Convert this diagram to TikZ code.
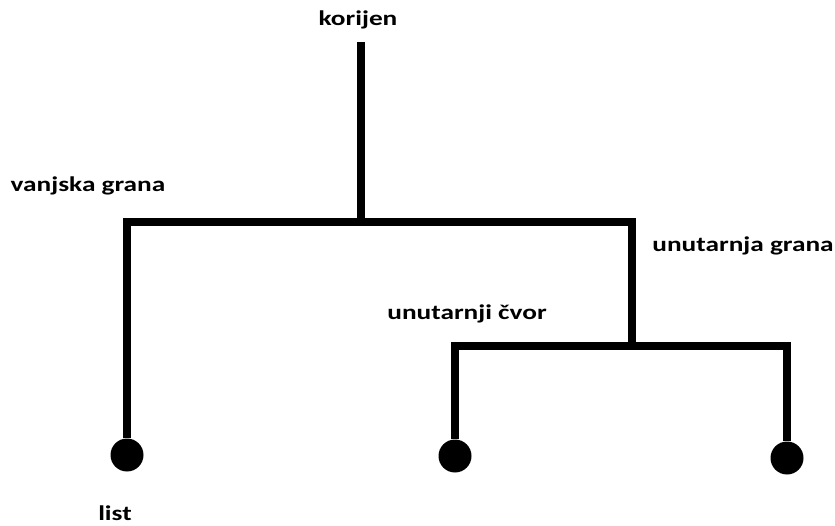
\documentclass[tikz,border=0pt]{standalone}
\usepackage{fontspec}
\setmainfont{Carlito}
\usepackage{tikz}
\usetikzlibrary{positioning}
\tikzstyle{branch} = [line width=8pt, line join=miter, black]
\tikzstyle{leaf} = [circle, fill=black, minimum size=33pt, inner sep=0pt]
\tikzstyle{label} = [font=\fontsize{21}{25}\selectfont\bfseries, inner sep=0pt, xscale=1.3]

\begin{document}
\begin{tikzpicture}[x=1pt, y=-1pt]
				\useasboundingbox (0,0) rectangle (835,526);
				
				% Junctions
				\coordinate (roottop) at (361,42);
				\coordinate (rootjoin) at (361,222);
				\coordinate (innernode) at (632,346);
				
				% Leaves
				\node (leafA) [leaf] at (127,455) {};
				\node (leafB) [leaf] at (455,456) {};
				\node (leafC) [leaf] at (787,458) {};
				
				% Branches
				\draw [branch] (roottop) -- (rootjoin);
				\draw [branch] (leafA) |- (rootjoin) -| (innernode);
				\draw [branch] (leafB) |- (innernode) -| (leafC);
				
				% Labels
				\node (korijen) [label] at (358,20) {korijen};
				\node (vanjska) [label] at (88,186) {vanjska grana};
				\node (unutarnja) [label] at (743,246) {unutarnja grana};
				\node (cvor) [label] at (467,314) {unutarnji čvor};
				\node (list) [label] at (115,513) {list};
				
			\end{tikzpicture}
\end{document}
